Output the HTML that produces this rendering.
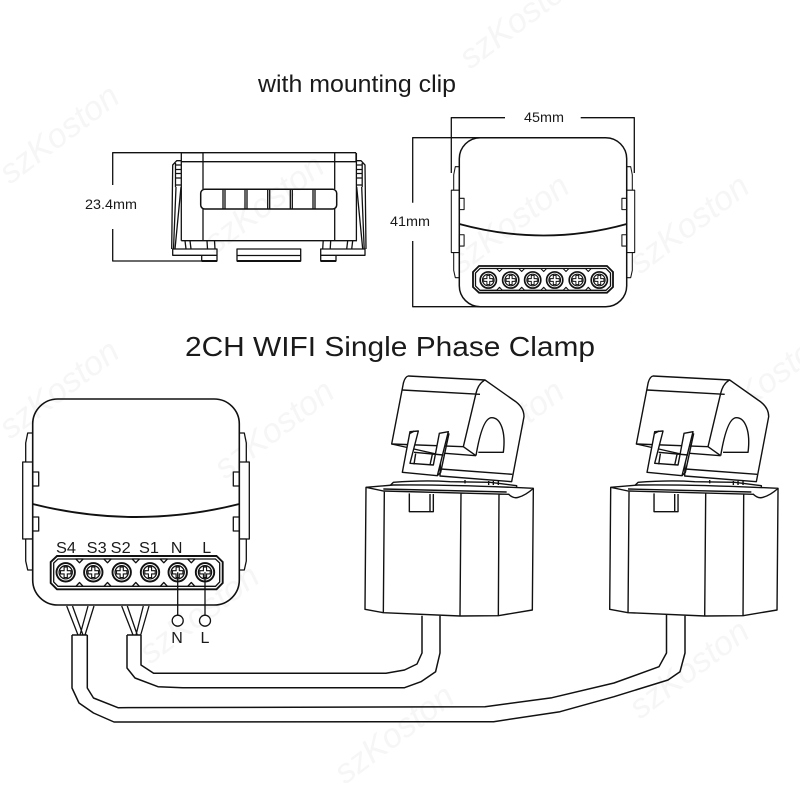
<!DOCTYPE html>
<html><head><meta charset="utf-8"><style>
html,body{margin:0;padding:0;background:#fff}
svg{display:block}
text{font-family:"Liberation Sans",sans-serif;fill:#1a1a1a}
.wm{fill:#f6f6f6;font-size:34px;font-style:italic}
.l{fill:none;stroke:#111;stroke-width:1.3;stroke-linejoin:round}
.t{fill:#fff;stroke:#111;stroke-width:1.3;stroke-linejoin:round}
</style></head><body>
<svg width="800" height="800" viewBox="0 0 800 800" xmlns="http://www.w3.org/2000/svg">
<defs>
<g id="sc">
<circle r="9.2" fill="#fff" stroke="#111" stroke-width="1.9"/>
<circle r="6.6" fill="none" stroke="#111" stroke-width="1.3"/>
<path d="M-1.6,-5.2H1.6V-1.6H5.2V1.6H1.6V5.2H-1.6V1.6H-5.2V-1.6H-1.6Z" fill="#fff" stroke="#111" stroke-width="1.1"/>
</g>
<g id="wedge">
<path d="M-3.600,0 L0,3.800 L3.600,0 Z" fill="#fff" stroke="#111" stroke-width="1.300" stroke-linejoin="round"/>
</g>
<g id="tab">
<path class="t" d="M0,34 L-7,34 L-7,10 L-5,0 L0,0 Z"/>
<path class="t" d="M0,106 L-10,106 L-10,29 L0,29"/>
<path class="t" d="M0,137 L-5,137 L-7,128 L-7,106 L0,106"/>
<rect class="t" x="0" y="39" width="6" height="14"/>
<rect class="t" x="0" y="84" width="6" height="14"/>
</g>
<g id="clamp" transform="translate(350,365) scale(0.33333)">
<g fill="#fff" stroke="#111" stroke-width="4.2" stroke-linejoin="round">
<path d="M120,362 L130,352 Q220,345 300,350 L420,352 L500,362 L500,372 L120,372Z"/>
<path fill="none" d="M345,345V355M416,348V360M430,348V360M445,348V360"/>
<path d="M48,367 L45,733 L100,743 L330,753 L445,752 L547,735 L550,370 Q300,358 130,360 Z"/>
<path fill="none" d="M48,367 L100,378 L478,388 M100,372 L470,381 M103,378 L100,743 M333,385 L330,753 M447,388 L445,752"/>
<path d="M475,387 Q490,402 505,397 Q528,390 550,370" />
<path d="M178,385 V440 H250 V387 M240,387 V440" />
<path d="M175,33 L405,45 L490,105 Q522,125 522,155 L485,350 L270,333 L272,270 L125,237 L160,55 Q165,35 175,33Z"/>
<path fill="none" d="M157,75 L390,88 M405,45 Q385,55 378,85 L340,245 L378,272 M125,237 L340,245 M285,265 L378,272 M272,312 L487,328"/>
<path d="M378,272 C390,200 405,158 425,158 C452,158 468,200 460,262 L385,262"/>
<path d="M180,200 L157,322 L262,332 L295,200 L268,205 L250,300 L180,295 L205,198 Z"/>
<path fill="none" d="M180,205 L193,198 M192,262 L280,270 M192,298 L197,266 M240,300 L247,268 M262,332 L272,322 L297,205"/>
</g>
</g>
</defs>

<g>
<text class="wm" transform="translate(10,185) rotate(-37)">szKoston</text>
<text class="wm" transform="translate(470,70) rotate(-37)">szKoston</text>
<text class="wm" transform="translate(215,255) rotate(-37)">szKoston</text>
<text class="wm" transform="translate(460,275) rotate(-37)">szKoston</text>
<text class="wm" transform="translate(640,275) rotate(-37)">szKoston</text>
<text class="wm" transform="translate(10,440) rotate(-37)">szKoston</text>
<text class="wm" transform="translate(225,480) rotate(-37)">szKoston</text>
<text class="wm" transform="translate(455,480) rotate(-37)">szKoston</text>
<text class="wm" transform="translate(720,430) rotate(-37)">szKoston</text>
<text class="wm" transform="translate(630,615) rotate(-37)">szKoston</text>
<text class="wm" transform="translate(150,665) rotate(-37)">szKoston</text>
<text class="wm" transform="translate(345,785) rotate(-37)">szKoston</text>
<text class="wm" transform="translate(640,720) rotate(-37)">szKoston</text>
</g>

<text x="258" y="92" font-size="24" textLength="198" lengthAdjust="spacingAndGlyphs">with mounting clip</text>
<text x="185" y="356" font-size="28" textLength="410" lengthAdjust="spacingAndGlyphs">2CH WIFI Single Phase Clamp</text>

<!-- side view -->
<path class="l" d="M112.7,185 V152.7 H356 M112.7,229 V261 H201.7"/>
<text x="85" y="209" font-size="13.5" textLength="52" lengthAdjust="spacingAndGlyphs">23.4mm</text>
<g id="sideL">
<path class="l" d="M181.3,153 V240.7 M203,153 V189 M203,209 V240.7"/>
<path class="l" d="M171.7,249 L172.7,165 L176.7,160.7 H181.3 M175.5,163 V187 M181.3,165H175.5 M181.3,169.500H175.500 M181.3,173.500H175.500 M181.3,178H175.500 M181.3,185H175.500 M176,187 L173.500,249 M181,187 L175,249"/>
<path class="l" d="M185,240.700 L186,249 M190,240.700 L191,249 M207,240.700 L207.500,249 M214.500,240.700 L215,249"/>
<path class="l" d="M172.700,249 H217 V261 H201.700 V255.300 H172.700 Z M201.700,255.300 H217"/>
</g>
<g transform="translate(537.700,0) scale(-1,1)">
<path class="l" d="M181.3,153 V240.7 M203,153 V189 M203,209 V240.7"/>
<path class="l" d="M171.7,249 L172.7,165 L176.7,160.7 H181.3 M175.5,163 V187 M181.3,165H175.5 M181.3,169.500H175.500 M181.3,173.500H175.500 M181.3,178H175.500 M181.3,185H175.500 M176,187 L173.500,249 M181,187 L175,249"/>
<path class="l" d="M185,240.700 L186,249 M190,240.700 L191,249 M207,240.700 L207.500,249 M214.500,240.700 L215,249"/>
<path class="l" d="M172.700,249 H217 V261 H201.700 V255.300 H172.700 Z M201.700,255.300 H217"/>
</g>
<path class="l" d="M181.3,161.700 H357 M181.3,240.700 H357 M356,152.700 V161 M181.300,152.700 H203"/>
<rect class="l" x="200.700" y="189.300" width="136" height="19.700" rx="4" style="stroke-width:1.500"/>
<path class="l" d="M223,189.300V209M225,189.300V209M245,189.300V209M247,189.300V209M267.700,189.300V209M269.700,189.300V209M290.300,189.300V209M292.300,189.300V209M313,189.300V209M315,189.300V209"/>
<path class="l" d="M237,249 H300.700 V261 H237 Z M237,255.500 H300.700"/>
<path d="M201.700,261 H217 M237,261 H300.700 M320.700,261 H336" stroke="#111" stroke-width="2" fill="none"/>

<!-- front view with clip -->
<path class="l" d="M451.300,173 V117.700 H505 M580.700,117.700 H634.300 V173 M412.700,202.700 V137.700 H480 M412.700,241 V306.700 H480"/>
<text x="524" y="122" font-size="13.500" textLength="40" lengthAdjust="spacingAndGlyphs">45mm</text>
<text x="390" y="226" font-size="13.500" textLength="40" lengthAdjust="spacingAndGlyphs">41mm</text>
<g transform="translate(459.300,166.700) scale(0.8,0.81)"><use href="#tab"/></g>
<g transform="translate(626.700,166.700) scale(-0.8,0.81)"><use href="#tab"/></g>
<rect x="459.300" y="137.700" width="167.400" height="169" rx="21" fill="none" stroke="#111" stroke-width="1.500"/>
<path d="M459.300,224 Q544,247 626.700,224" fill="none" stroke="#111" stroke-width="1.800"/>
<path d="M479,266 H607 L613,272 V287 L607,292.700 H479 L473,287 V272 Z" fill="#fff" stroke="#111" stroke-width="1.800"/>
<path d="M480,268.500 H606 L610.500,273 V286 L606,290.300 H480 L475.500,286 V273 Z" fill="none" stroke="#111" stroke-width="1.300"/>
<use href="#wedge" transform="translate(499.500,268.500) scale(.8)"/><use href="#wedge" transform="translate(521.700,268.500) scale(.8)"/><use href="#wedge" transform="translate(543.700,268.500) scale(.8)"/><use href="#wedge" transform="translate(566,268.500) scale(.8)"/><use href="#wedge" transform="translate(588.300,268.500) scale(.8)"/>
<use href="#wedge" transform="translate(499.500,290.300) scale(.8,-.8)"/><use href="#wedge" transform="translate(521.700,290.300) scale(.8,-.8)"/><use href="#wedge" transform="translate(543.700,290.300) scale(.8,-.8)"/><use href="#wedge" transform="translate(566,290.300) scale(.8,-.8)"/><use href="#wedge" transform="translate(588.300,290.300) scale(.8,-.8)"/>
<use href="#sc" transform="translate(488.300,280) scale(.88)"/><use href="#sc" transform="translate(510.700,280) scale(.88)"/><use href="#sc" transform="translate(532.700,280) scale(.88)"/><use href="#sc" transform="translate(554.700,280) scale(.88)"/><use href="#sc" transform="translate(577.300,280) scale(.88)"/><use href="#sc" transform="translate(599.300,280) scale(.88)"/>

<!-- main module -->
<g transform="translate(32.700,433)"><use href="#tab"/></g>
<g transform="translate(239.300,433) scale(-1,1)"><use href="#tab"/></g>
<rect x="32.700" y="399" width="206.600" height="206" rx="25" fill="none" stroke="#111" stroke-width="1.600"/>
<path d="M32.700,504 Q136,530 239.300,504" fill="none" stroke="#111" stroke-width="1.900"/>
<path d="M57,556 H216.500 L222.700,562 V583 L216.500,589.300 H57 L50.700,583 V562 Z" fill="#fff" stroke="#111" stroke-width="1.900"/>
<path d="M58,559 H215.500 L219.700,563 V582 L215.500,586.300 H58 L53.700,582 V563 Z" fill="none" stroke="#111" stroke-width="1.300"/>
<use href="#wedge" transform="translate(79.500,559)"/><use href="#wedge" transform="translate(107.500,559)"/><use href="#wedge" transform="translate(135.800,559)"/><use href="#wedge" transform="translate(163.800,559)"/><use href="#wedge" transform="translate(191.300,559)"/>
<use href="#wedge" transform="translate(79.500,586.300) scale(1,-1)"/><use href="#wedge" transform="translate(107.500,586.300) scale(1,-1)"/><use href="#wedge" transform="translate(135.800,586.300) scale(1,-1)"/><use href="#wedge" transform="translate(163.800,586.300) scale(1,-1)"/><use href="#wedge" transform="translate(191.300,586.300) scale(1,-1)"/>
<use href="#sc" transform="translate(65.700,572.300)"/><use href="#sc" transform="translate(93.300,572.300)"/><use href="#sc" transform="translate(121.700,572.300)"/><use href="#sc" transform="translate(150,572.300)"/><use href="#sc" transform="translate(177.700,572.300)"/><use href="#sc" transform="translate(205,572.300)"/>
<g font-size="16" text-anchor="middle">
<text x="66" y="553" textLength="20" lengthAdjust="spacingAndGlyphs">S4</text>
<text x="96.700" y="553" textLength="20" lengthAdjust="spacingAndGlyphs">S3</text>
<text x="120.700" y="553" textLength="20" lengthAdjust="spacingAndGlyphs">S2</text>
<text x="149" y="553" textLength="20" lengthAdjust="spacingAndGlyphs">S1</text>
<text x="176.700" y="553">N</text>
<text x="206.700" y="553">L</text>
<text x="177" y="643">N</text>
<text x="205" y="643">L</text>
</g>
<path class="l" d="M177.700,572.300 V615 M205,572.300 V615"/>
<circle cx="177.700" cy="620.700" r="5.500" fill="#fff" stroke="#111" stroke-width="1.300"/>
<circle cx="205" cy="620.700" r="5.500" fill="#fff" stroke="#111" stroke-width="1.300"/>

<!-- strands -->
<path class="l" d="M66.700,606 L78,635 M72.500,606 L83,635 M88,606 L80,635 M94,606 L85,635"/>
<path class="l" d="M121.700,606 L133,635 M127.300,606 L137.300,635 M143.300,606 L136,635 M149,606 L140.700,635"/>

<!-- clamps -->
<use href="#clamp"/>
<use href="#clamp" transform="translate(244.700,0)"/>

<!-- cables -->
<path class="l" style="stroke-width:1.500" d="M72,635 H87.300 M72,635 V688 L79,703 L93.500,713 L114,722 L493.600,721.700 L560,711.700 L614,696.700 L668,680 L680,671.700 L685,653 V615.700"/>
<path class="l" style="stroke-width:1.500" d="M87.300,635 V688 L93.500,698 L118,707.700 L485,706.700 L552,697.700 L614,683 L659,666.700 L666.500,653 V615"/>
<path class="l" style="stroke-width:1.500" d="M127,635 H141 M127,635 V668 L135,678 L158,686.700 L182.700,687.700 H404.500 L421,681.700 L435.600,671.700 L440,653 V615.700"/>
<path class="l" style="stroke-width:1.500" d="M141,635 V665 L153.600,673.300 H386 L404.500,670 L417,664 L422,653 V615.700"/>
</svg>
</body></html>
